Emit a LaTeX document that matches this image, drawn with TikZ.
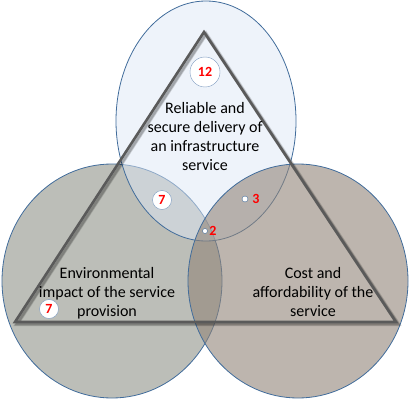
\documentclass[tikz,border=0pt]{standalone}
\usepackage{fontspec}
\setmainfont{Carlito}
\usetikzlibrary{positioning}

\definecolor{edgeblue}{RGB}{65,108,155}
\definecolor{topfill}{RGB}{221,231,245}
\definecolor{envfill}{RGB}{188,190,184}
\definecolor{costfill}{RGB}{145,132,120}
\definecolor{triline}{RGB}{90,90,90}
\definecolor{circblue}{RGB}{125,155,192}

\tikzset{
  bigtext/.style={align=center, font=\fontsize{16}{19}\selectfont, text=black},
  numcirc/.style={circle, draw=circblue, fill=white, inner sep=0pt, minimum size=19pt, text=red, font=\bfseries\fontsize{14}{14}\selectfont},
  numtext/.style={text=red, inner sep=0pt, font=\bfseries\fontsize{14}{14}\selectfont},
  dotcirc/.style={circle, draw=edgeblue, fill=white, inner sep=0pt, minimum size=6pt}
}

\begin{document}
\begin{tikzpicture}[x=1pt,y=-1pt]
\useasboundingbox (0,0) rectangle (410,417);

% draw the three areas
\filldraw[fill=envfill, draw=edgeblue, line width=0.8pt] (112,281) ellipse [x radius=110pt, y radius=117pt];
\filldraw[fill=topfill, fill opacity=0.5, draw=edgeblue, line width=0.8pt] (206,121) ellipse [x radius=90pt, y radius=120pt];
\filldraw[fill=costfill, fill opacity=0.6, draw=edgeblue, line width=0.8pt] (298,281) ellipse [x radius=110pt, y radius=117pt];

% draw the triangle
\coordinate (apex) at (204,32);
\coordinate (botleft) at (15,322);
\coordinate (botright) at (396,322);

%% shadow
\draw[black, opacity=0.15, line width=4pt] ([xshift=2pt,yshift=-2pt]apex) -- ([xshift=2pt,yshift=-2pt]botleft) -- ([xshift=2pt,yshift=-2pt]botright) -- cycle;
\draw[black, opacity=0.2, line width=2.5pt] ([xshift=2pt,yshift=-2pt]apex) -- ([xshift=2pt,yshift=-2pt]botleft) -- ([xshift=2pt,yshift=-2pt]botright) -- cycle;

%% lines
\draw[triline, line width=2.6pt] (apex) -- (botleft) -- (botright) -- cycle;

% the labels
\node[bigtext] (reliable) at (205,137) {Reliable and\\secure delivery of\\an infrastructure\\service};
\node[bigtext] (environ) at (107,293) {Environmental\\impact of the service\\provision};
\node[bigtext] (cost) at (313,292) {Cost and\\affordability of the\\service};

% the counts
\node[numcirc, minimum size=30pt] (n12) at (205,72) {12};
\node[numcirc] (n7top) at (162,200) {7};
\node[numcirc] (n7env) at (49,309) {7};
\node[dotcirc] (dot3) at (245,199) {};
\node[numtext, right=4pt of dot3] (n3) {3};
\node[dotcirc, minimum size=5pt] (dot2) at (205,231) {};
\node[numtext, right=1.5pt of dot2] (n2) {2};

\end{tikzpicture}
\end{document}
